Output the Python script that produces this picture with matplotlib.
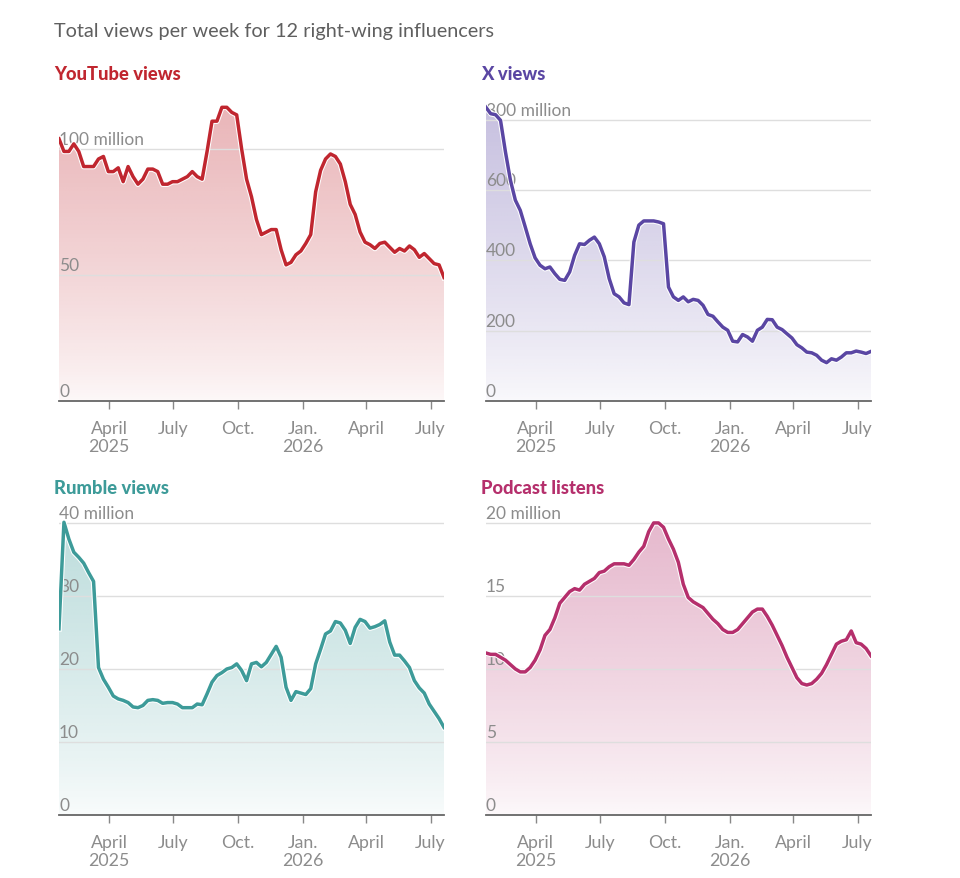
import numpy as np
import matplotlib
matplotlib.use("Agg")
import matplotlib.pyplot as plt
import matplotlib.dates as mdates
import matplotlib.patheffects as pe
from matplotlib.colors import to_rgb
import datetime as dt

plt.rcParams['font.family'] = ['Lato', 'DejaVu Sans']

# ---- data (weekly, starting 2025-01-20) ----
start_date = "2025-01-20"
n_weeks = 79

youtube = [104, 99, 99, 102, 99, 93, 93, 93, 96, 97, 91, 91, 92.5, 87, 93, 89, 86, 88, 92, 92,
           91, 86, 86, 87, 87, 88, 89, 91, 89, 88, 99, 111, 111, 116.5, 116.5, 114.5, 113.5, 100, 88, 81,
           72, 66, 67, 68, 68, 60, 54, 55, 58, 59.5, 62.5, 66, 83, 91.5, 96, 98, 97, 94, 87, 78,
           74, 67, 63, 62, 60.5, 62.5, 63, 61, 59, 60.5, 59.5, 61.5, 60, 57, 58.5, 56.5, 54.5, 54, 49]

x_views = [836, 817, 814, 798, 708, 628, 571, 542, 495, 447, 407, 386, 376, 381, 362, 346, 343, 367, 414, 447,
           445, 457, 466, 447, 410, 348, 305, 296, 279, 274, 452, 500, 512, 512, 512, 509, 504, 324, 296, 286,
           296, 282, 289, 286, 272, 246, 241, 225, 210, 201, 170, 168, 189, 182, 170, 201, 210, 232, 231, 210,
           203, 191, 179, 160, 151, 139, 137, 130, 116, 109, 120, 116, 125, 137, 137, 142, 139, 135, 141]

rumble = [25.5, 40.1, 37.8, 36, 35.3, 34.5, 33.2, 32, 20.2, 18.6, 17.5, 16.3, 15.9, 15.7, 15.4, 14.8, 14.7, 15, 15.7, 15.8,
          15.7, 15.3, 15.4, 15.4, 15.2, 14.7, 14.7, 14.7, 15.2, 15.1, 16.6, 18.2, 19.1, 19.5, 20, 20.2, 20.7, 19.8, 18.4, 20.7,
          20.9, 20.3, 20.9, 22, 23.1, 21.6, 17.5, 15.7, 16.9, 16.7, 16.5, 17.3, 20.7, 22.7, 24.8, 25.2, 26.5, 26.3, 25.3, 23.5,
          25.7, 26.8, 26.5, 25.6, 25.8, 26.1, 26.6, 23.7, 21.9, 21.9, 21.1, 20.2, 18.4, 17.4, 16.7, 15.2, 14.2, 13.2, 12]

podcast = [11.1, 11.0, 11.0, 10.8, 10.6, 10.3, 10.0, 9.8, 9.8, 10.1, 10.6, 11.3, 12.3, 12.7, 13.5, 14.5, 14.9, 15.3, 15.5, 15.4,
           15.8, 16.0, 16.2, 16.6, 16.7, 17.0, 17.2, 17.2, 17.2, 17.1, 17.5, 18.0, 18.4, 19.4, 20.0, 20.0, 19.7, 18.9, 18.2, 17.3,
           15.8, 14.9, 14.6, 14.4, 14.2, 13.8, 13.4, 13.1, 12.7, 12.5, 12.5, 12.7, 13.1, 13.5, 13.9, 14.1, 14.1, 13.6, 13.0, 12.3,
           11.6, 10.8, 10.1, 9.4, 9.0, 8.9, 9.0, 9.3, 9.7, 10.3, 11.0, 11.7, 11.9, 12.0, 12.6, 11.8, 11.7, 11.4, 10.9]

titles = ["YouTube views", "X views", "Rumble views", "Podcast listens"]
colors = ["#c0262f", "#5a46a3", "#3d9b99", "#b52f6c"]
yticks = [[0, 50, 100], [0, 200, 400, 600, 800], [0, 10, 20, 30, 40], [0, 5, 10, 15, 20]]
ytop = [119.8, 858.7, 41.37, 20.68]
xtick_dates = ["2025-04-01", "2025-07-01", "2025-10-01", "2026-01-01", "2026-04-01", "2026-07-01"]
xtick_labels = ["April\n2025", "July", "Oct.", "Jan.\n2026", "April", "July"]
main_title = "Total views per week for 12 right-wing influencers"

series = [youtube, x_views, rumble, podcast]

# ---- figure ----
W, H = 960, 879
fig = plt.figure(figsize=(W / 100, H / 100), dpi=100)
fig.patch.set_facecolor("white")

d0 = np.datetime64(start_date)
dates = np.array([d0 + np.timedelta64(7 * i, 'D') for i in range(n_weeks)]).astype('datetime64[D]').astype(dt.datetime)
xnum = mdates.date2num(dates)
xt = mdates.date2num(np.array(xtick_dates, dtype='datetime64[D]').astype(dt.datetime))

# axes boxes in pixels: left, right, bottom (from top), top (from top)
boxes = [(59, 444, 402, 100), (485.7, 871, 402, 100), (59, 444, 816, 514), (485.7, 871, 816, 514)]
title_pos = [(54, 74), (481, 74), (54, 489), (481, 489)]

grey_txt = "#8c8c8c"

for k in range(4):
    l, r, b, t = boxes[k]
    ax = fig.add_axes([l / W, (H - b) / H, (r - l) / W, (b - t) / H])
    ax.set_facecolor("none")
    y = np.array(series[k], dtype=float)
    col = colors[k]

    # gradient fill
    poly = ax.fill_between(xnum, 0, y, color="none", lw=0)
    rgb = np.array(to_rgb(col))
    nh = 256
    alphas = (np.linspace(0.0, 1.0, nh) ** 0.8 * 0.31 + 0.03)[:, None]
    img = np.ones((nh, 2, 4))
    img[:, :, :3] = rgb
    img[:, :, 3] = alphas
    im = ax.imshow(img, aspect='auto', origin='lower',
                   extent=[xnum[0], xnum[-1], 0, max(y)], zorder=1, interpolation='bilinear')
    path = poly.get_paths()[0]
    im.set_clip_path(path, transform=ax.transData)
    ax.set_ylim(0, ytop[k])
    ax.set_xlim(xnum[0], xnum[-1])

    # gridlines
    for v in yticks[k][1:]:
        ax.axhline(v, color="#dedede", lw=1, zorder=2)

    # y labels
    for i, v in enumerate(yticks[k]):
        lab = f"{v} million" if i == len(yticks[k]) - 1 else f"{v}"
        ax.annotate(lab, xy=(0, v), xycoords=ax.get_yaxis_transform(),
                    xytext=(0, 1.5), textcoords="offset points",
                    ha="left", va="bottom", fontsize=12.5, color=grey_txt, zorder=3)

    # line
    ax.plot(xnum, y, color=col, lw=2.5, zorder=5, solid_joinstyle='round',
            path_effects=[pe.Stroke(linewidth=4.0, foreground="white"), pe.Normal()])

    for s in ["top", "right", "left"]:
        ax.spines[s].set_visible(False)
    ax.spines["bottom"].set_color("#666666")
    ax.spines["bottom"].set_linewidth(1.3)
    ax.spines["bottom"].set_zorder(6)
    ax.set_yticks([])
    ax.set_xticks(xt)
    ax.set_xticklabels(xtick_labels, fontsize=12.8, color=grey_txt, linespacing=1.12)
    ax.tick_params(axis='x', length=6, width=1, color="#888888", pad=8)

    tx, ty = title_pos[k]
    fig.text(tx / W, 1 - ty / H, titles[k], fontsize=13.2, fontweight="black", color=col,
             ha="left", va="center")

fig.text(54 / W, 1 - 32 / H, main_title, fontsize=14.3, color="#5f5f5f", ha="left", va="center")

fig.savefig("out.png", dpi=100, facecolor="white")
